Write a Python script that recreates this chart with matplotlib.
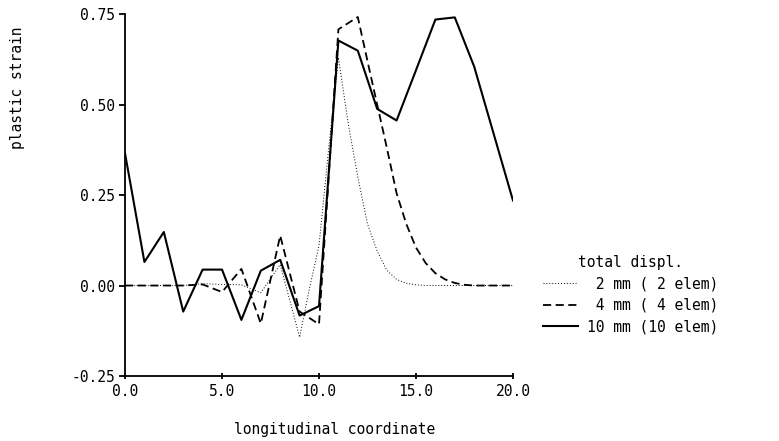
import matplotlib
matplotlib.use('Agg')
import matplotlib.pyplot as plt

# plastic strain along the bar
x_10mm = [0, 1, 2, 3, 4, 5, 6, 7, 8, 9, 10, 11, 12, 13, 14, 15, 16, 17, 18, 19, 20]
eps_10mm = [0.365, 0.065, 0.148, -0.072, 0.044, 0.044, -0.095, 0.041, 0.071, -0.083,
            -0.057, 0.677, 0.649, 0.488, 0.456, 0.595, 0.735, 0.741, 0.605, 0.42, 0.235]

x_4mm = [0, 1, 2, 3, 4, 5, 6, 7, 8, 9, 10, 11, 12, 12.5, 13, 13.5, 14, 14.5, 15,
         15.5, 16, 16.5, 17, 17.5, 18, 19, 20]
eps_4mm = [0.0, 0.0, 0.0, 0.0, 0.003, -0.018, 0.046, -0.105, 0.138, -0.072, -0.107,
           0.708, 0.742, 0.62, 0.50, 0.38, 0.255, 0.17, 0.105, 0.062, 0.034, 0.017,
           0.007, 0.002, 0.0, 0.0, 0.0]

x_2mm = [0, 1, 2, 3, 4, 5, 6, 7, 8, 9, 9.5, 10, 10.5, 11, 11.5, 12, 12.5, 13, 13.5,
         14, 14.5, 15, 15.5, 16, 17, 18, 19, 20]
eps_2mm = [0.0, 0.0, 0.0, 0.0, 0.005, 0.003, 0.002, -0.02, 0.058, -0.143, -0.01,
           0.11, 0.38, 0.63, 0.45, 0.30, 0.17, 0.095, 0.042, 0.017, 0.006, 0.002,
           0.0, 0.0, 0.0, 0.0, 0.0, 0.0]

labels = [' 2 mm ( 2 elem)', ' 4 mm ( 4 elem)', '10 mm (10 elem)']
x_ticks = [0.0, 5.0, 10.0, 15.0, 20.0]
y_ticks = [-0.25, 0.0, 0.25, 0.5, 0.75]

plt.rcParams['font.family'] = 'DejaVu Sans Mono'
plt.rcParams['font.size'] = 10.5
plt.rcParams['axes.unicode_minus'] = False

fig = plt.figure(figsize=(7.79, 4.41), dpi=100)
ax = fig.add_axes([0.1605, 0.1474, 0.498, 0.8206])

ax.plot(x_2mm, eps_2mm, color='black', lw=0.7, ls=(0, (1, 2)), label=labels[0])
ax.plot(x_4mm, eps_4mm, color='black', lw=1.3, ls=(0, (4.5, 2.5)), label=labels[1])
ax.plot(x_10mm, eps_10mm, color='black', lw=1.5, ls='-', label=labels[2])

ax.set_xlim(0, 20)
ax.set_ylim(-0.25, 0.75)
ax.set_xticks(x_ticks)
ax.set_yticks(y_ticks)
ax.set_xticklabels([f'{t:.1f}' for t in x_ticks])
ax.set_yticklabels([f'{t:.2f}' for t in y_ticks])
ax.spines['top'].set_visible(False)
ax.spines['right'].set_visible(False)
ax.spines['left'].set_linewidth(1.3)
ax.spines['bottom'].set_linewidth(1.3)
ax.tick_params(axis='y', direction='out', length=4, width=1.3, pad=3)
ax.tick_params(axis='x', direction='inout', length=5, width=1.3, pad=3)

fig.text(0.023, 0.80, 'plastic strain', rotation=90, ha='center', va='center')
fig.text(0.43, 0.025, 'longitudinal coordinate', ha='center', va='center')

leg = ax.legend(loc='upper left', bbox_to_anchor=(0.684, 0.446),
                bbox_transform=fig.transFigure, frameon=False,
                title='total displ.', handlelength=2.4, handletextpad=0.6,
                labelspacing=0.45, borderpad=0.2)
leg.get_title().set_fontsize(10.5)

fig.savefig('out.png', dpi=100)
